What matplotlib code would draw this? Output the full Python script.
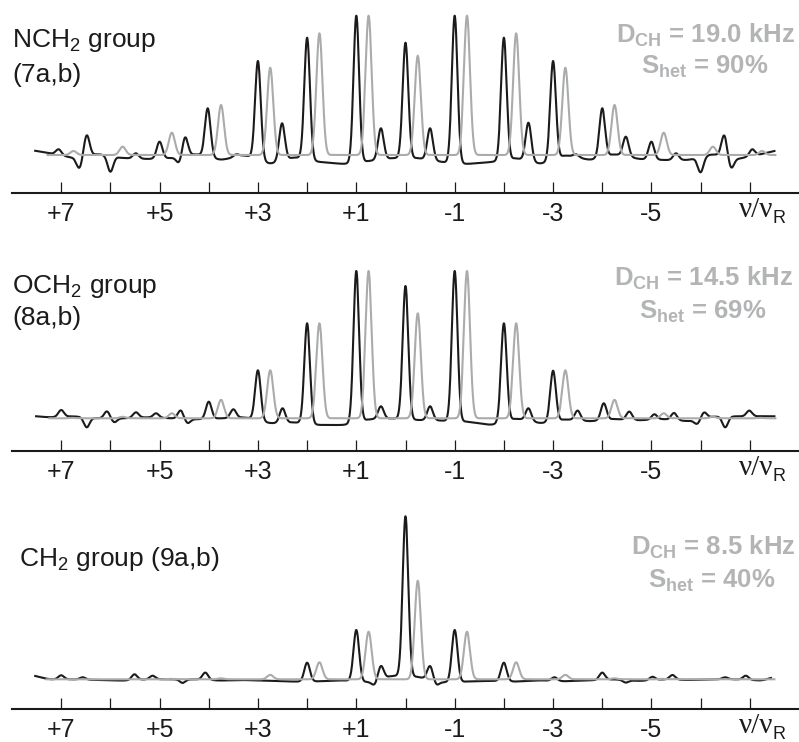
import numpy as np
import matplotlib
matplotlib.use("Agg")
import matplotlib.pyplot as plt

plt.rcParams['font.family'] = ['Liberation Sans', 'DejaVu Sans']
plt.rcParams['mathtext.fontset'] = 'custom'
plt.rcParams['mathtext.rm'] = 'Liberation Sans'
plt.rcParams['mathtext.bf'] = 'Liberation Sans:bold'
plt.rcParams['mathtext.it'] = 'Liberation Sans:italic'

# ---------------------------------------------------------------- axis
tick_positions = [7, 6, 5, 4, 3, 2, 1, 0, -1, -2, -3, -4, -5, -6, -7]
tick_labels = ["+7", "", "+5", "", "+3", "", "+1", "", "-1", "", "-3", "", "-5", "", ""]

# sideband orders of the simulated spectra (gray), centred at order - 0.25
sim_orders = [7, 6, 5, 4, 3, 2, 1, 0, -1, -2, -3, -4, -5, -6, -7]
# grid on which the experimental baseline drift is given
base_grid = [7.75, 7.25, 6.75, 6.25, 5.75, 5.25, 4.75, 4.25, 3.75, 3.25, 2.75, 2.25,
             1.75, 1.25, 0.75, 0.25, -0.25, -0.75, -1.25, -1.75, -2.25, -2.75,
             -3.25, -3.75, -4.25, -4.75, -5.25, -5.75, -6.25, -6.75, -7.25, -7.75]

# ---------------------------------------------------------------- NCH2 (7a,b)
nch2_sim = [4, 8.3, 22.3, 50, 87.3, 121.7, 139.3, 99.3, 139.3, 121.7, 87.3, 50, 22.3, 8.3, 4]
nch2_exp_pos = [7.05, 6.63, 6.48, 6.0, 5.48, 5.0, 4.6, 4.48, 4.02, 3.44, 3.0, 2.51, 2.0,
                1.0, 0.5, 0.0, -0.5, -1.0, -2.0, -2.5, -3.0, -3.47, -4.0, -4.48, -5.0,
                -5.5, -6.0, -6.48, -6.62, -7.05]
nch2_exp_val = [5.7, -13.3, 20, -16.7, 1.7, 13.3, -8.3, 18.3, 46.7, 0.7, 94, 31.7, 117.3,
                139.3, 26.7, 112.3, 26.7, 139.3, 117.3, 32.3, 94, 0.7, 46.7, 18.3, 13.3,
                1.7, -17.3, 20, -13.3, 5.7]
nch2_exp_base = [6, 2, -3, 1, -3, -4, -3, 1, -5, 0, -9, -2, -7, -9, -6, -3,
                 -3, -7, -9, -7, -3, -9, 0, -5, 1, -4, -5, -5, 1, -4, 1, 7]

# ---------------------------------------------------------------- OCH2 (8a,b)
och2_sim = [0.5, 1.5, 5, 18.5, 48, 95, 147.3, 105, 147.3, 95, 48, 18.5, 5, 1.5, 0.5]
och2_exp_pos = [7.0, 6.48, 6.07, 5.92, 5.48, 5.07, 4.57, 4.43, 4.0, 3.5, 3.0, 2.5, 2.0,
                1.0, 0.5, 0.0, -0.5, -1.0, -2.0, -2.5, -3.0, -3.5, -4.03, -4.55, -5.06,
                -5.46, -5.93, -6.07, -6.5, -6.99]
och2_exp_val = [8.3, -9, 7, -4, 6, 5, 8, -5, 16.6, 9, 48, 10, 95,
                147.3, 12, 132.3, 12, 147.3, 95, 10, 47.6, 7.7, 15, 6.7, 4,
                5.3, -5.7, 6, -9, 7.7]
och2_exp_base = [3, 1, 2, 0, 0, 1, 0, -1, 0, 1, -5, -4, -6.7, -6.7, -1, 0,
                 -1.7, -2.3, -3.3, -6.7, 0, -5, -1, -3, -0.7, -2, -0.7, -3, 1.7, 2, 2, 2]

# ---------------------------------------------------------------- CH2 (9a,b)
ch2_sim = [0, 0, 0.5, 1, 4.4, 17, 47.6, 98.6, 47.6, 17, 4.4, 1, 0.5, 0, 0]
ch2_exp_pos = [7.0, 6.56, 5.51, 5.14, 4.53, 4.07, 2.0, 1.0, 0.63, 0.5, 0.0, -0.5, -0.63,
               -1.0, -2.0, -3.03, -4.0, -4.48, -5.02, -5.43, -6.5, -6.92]
ch2_exp_val = [4, 2, 5, 3.6, -3.6, 6.7, 16.6, 49.3, -5.7, 13.6, 163, 13.5, -5.7,
               49.3, 16.6, 2, 6.7, -3.3, 2.5, 4.3, 2, 3.6]
ch2_exp_base = [6, 0, 0, -0.7, -1.3, 0, 0, 0, -1.3, -0.7, -1.5, -2.3, -2, -1, -3, 3.7,
                2.5, -3, -2.3, -1.5, -2.3, -1, -2, -1, 0, -1.7, 0, -0.7, 0, 0, -1.3, 6]

groups = [
    dict(title=["NCH$_\\mathrm{2}$ group", "(7a,b)"],
         info=["$\\mathbf{D_{CH}}$ = 19.0 kHz", "$\\mathbf{S_{het}}$ = 90%"],
         sim=nch2_sim, pos=nch2_exp_pos, val=nch2_exp_val, base=nch2_exp_base,
         axis_px=193, base_px=155, top_px=0,
         title_xy=[(12, 46.7), (12, 81.7)], info_xy=[(705, 42.7), (705, 74)],
         exp_range=(7.53, -7.5), sim_range=(7.28, -7.52)),
    dict(title=["OCH$_\\mathrm{2}$ group", "(8a,b)"],
         info=["$\\mathbf{D_{CH}}$ = 14.5 kHz", "$\\mathbf{S_{het}}$ = 69%"],
         sim=och2_sim, pos=och2_exp_pos, val=och2_exp_val, base=och2_exp_base,
         axis_px=451, base_px=418.3, top_px=245,
         title_xy=[(12, 293.3), (12, 325)], info_xy=[(703, 286), (703, 318.3)],
         exp_range=(7.51, -7.5), sim_range=(7.24, -7.52)),
    dict(title=["CH$_\\mathrm{2}$ group (9a,b)"],
         info=["$\\mathbf{D_{CH}}$ = 8.5 kHz", "$\\mathbf{S_{het}}$ = 40%"],
         sim=ch2_sim, pos=ch2_exp_pos, val=ch2_exp_val, base=ch2_exp_base,
         axis_px=709, base_px=679.3, top_px=490,
         title_xy=[(19, 566)], info_xy=[(713, 555), (712, 588.3)],
         exp_range=(7.53, -7.43), sim_range=(7.3, -7.5)),
]

BLACK = "#1c1a1b"
GRAY = "#a9abad"
INFO_GRAY = "#b2b4b6"
SIG_EXP = 0.057
SIG_SIM = 0.062
SIG_BASE = 0.06

W, H = 799, 742
fig = plt.figure(figsize=(W / 100, H / 100), dpi=100)


def fig_xy(x, y):
    return x / W, 1 - y / H


def gauss(x, x0, s):
    return np.exp(-0.5 * ((x - x0) / s) ** 2)


def sim_spectrum(x, heights):
    y = np.zeros_like(x)
    for k, h in zip(sim_orders, heights):
        y += h * gauss(x, k - 0.25, SIG_SIM)
    return y


def exp_spectrum(x, pos, val, base):
    b = np.interp(x, base_grid[::-1], base[::-1])
    dx = x[1] - x[0]
    kx = np.arange(-4 * SIG_BASE, 4 * SIG_BASE + dx, dx)
    kern = np.exp(-0.5 * (kx / SIG_BASE) ** 2)
    kern /= kern.sum()
    b = np.convolve(b, kern, mode="same")
    y = b.copy()
    for p, v in zip(pos, val):
        y += (v - np.interp(p, x, b)) * gauss(x, p, SIG_EXP)
    return y


x = np.linspace(-8, 8, 8001)

for g in groups:
    axis_px, base_px, top_px = g["axis_px"], g["base_px"], g["top_px"]
    ax = fig.add_axes([12 / W, 1 - axis_px / H, 787 / W, (axis_px - top_px) / H])
    ax.set_xlim(8, -8)
    ax.set_ylim(-(axis_px - base_px), base_px - top_px)
    ax.patch.set_visible(False)
    for side in ("left", "right", "top"):
        ax.spines[side].set_visible(False)
    ax.spines["bottom"].set_linewidth(1.5)
    ax.spines["bottom"].set_color(BLACK)
    ax.set_yticks([])
    ax.set_xticks(tick_positions)
    ax.set_xticklabels(tick_labels)
    ax.tick_params(axis="x", direction="in", length=7.6, width=0.9, color=BLACK,
                   labelsize=18, pad=6.5, labelcolor=BLACK)

    y_exp = exp_spectrum(x, g["pos"], g["val"], g["base"])
    lo, hi = g["exp_range"][1], g["exp_range"][0]
    m = (x >= lo) & (x <= hi)
    ax.plot(x[m], y_exp[m], color=BLACK, lw=1.5, solid_joinstyle="round", zorder=2)

    y_sim = sim_spectrum(x, g["sim"])
    lo, hi = g["sim_range"][1], g["sim_range"][0]
    m = (x >= lo) & (x <= hi)
    ax.plot(x[m], y_sim[m], color=GRAY, lw=1.5, solid_joinstyle="round", zorder=3)

    for txt, (tx, ty) in zip(g["title"], g["title_xy"]):
        fig.text(*fig_xy(tx, ty), txt, fontsize=19, color=BLACK, ha="left", va="baseline")
    for txt, (tx, ty) in zip(g["info"], g["info_xy"]):
        fig.text(*fig_xy(tx, ty), txt, fontsize=18.5, fontweight="bold", color=INFO_GRAY,
                 ha="center", va="baseline")

    # frequency axis label under the last tick
    ax_label_y = axis_px + 24
    fig.text(*fig_xy(739, ax_label_y), "ν/ν", fontsize=21, family="Liberation Serif",
             color=BLACK, ha="left", va="baseline")
    fig.text(*fig_xy(772, ax_label_y + 6), "R", fontsize=13, color=BLACK,
             ha="left", va="baseline")

fig.savefig("out.png", dpi=100)
